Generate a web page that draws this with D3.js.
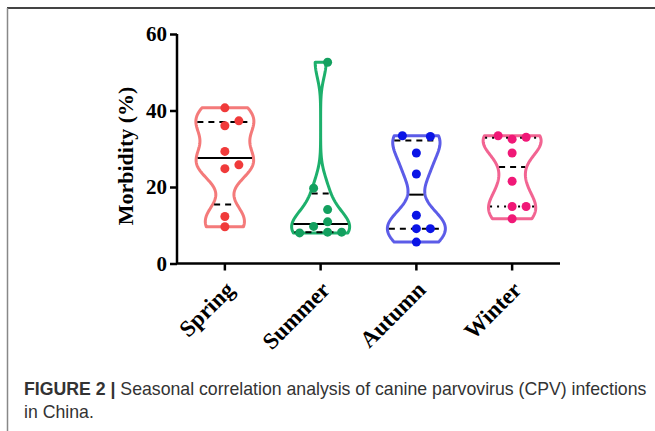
<!DOCTYPE html>
<html lang="en">
<head>
<meta charset="UTF-8">
<title>CPV seasonal violin</title>
<script src="https://d3js.org/d3.v7.min.js"></script>
<style>
  body { margin: 0; background: #fff; }
  svg text { fill: #000; }
</style>
</head>
<body>
<div id="chart"></div>
<script>
// seasons on the x axis
var seasons = ["Spring", "Summer", "Autumn", "Winter"];

// morbidity (%) for each season
var spring = [40.7, 37.3, 36.0, 29.3, 25.8, 24.8, 12.3, 9.6];
var summer = [52.6, 19.7, 14.1, 10.9, 9.7, 8.0, 8.2, 8.2];
var autumn = [33.4, 33.2, 28.9, 23.4, 12.6, 9.1, 9.1, 5.6];
var winter = [33.4, 32.5, 33.0, 28.9, 21.5, 14.9, 14.9, 11.7];

// horizontal jitter of each dot (in dot-widths), as GraphPad spread them
var springJit = [0, 1, 0, 0, 1, 0, 0, 0];
var summerJit = [0.5, -0.5, 0.5, 0.5, -0.5, -1.5, 0.5, 1.5];
var autumnJit = [-1, 1, 0, 0, 0, 0, 1, 0];
var winterJit = [-1, 0, 1, 0, 0, 0, 1, 0];

var yTicks = [0, 20, 40, 60];

var outline = ["#f47a7a", "#1db06c", "#5c5ce8", "#f26492"];
var dotCol  = ["#f03a3a", "#13a05f", "#0a14e6", "#f01877"];

var groups = [
  {name: "Spring", vals: spring, jit: springJit, med: "solid", q: "dash"},
  {name: "Summer", vals: summer, jit: summerJit, med: "solid", q: "dash"},
  {name: "Autumn", vals: autumn, jit: autumnJit, med: "solid", q: "dash"},
  {name: "Winter", vals: winter, jit: winterJit, med: "dash", q: "dot"}
];

var W = 655, H = 431;
var svg = d3.select("#chart").append("svg")
  .attr("width", W).attr("height", H);

// page frame
svg.append("line").attr("x1", 7).attr("x2", W).attr("y1", 8).attr("y2", 8)
  .attr("stroke", "#444").attr("stroke-width", 2);
svg.append("line").attr("x1", 7.5).attr("x2", 7.5).attr("y1", 8).attr("y2", H)
  .attr("stroke", "#888").attr("stroke-width", 1.5);

var x = d3.scaleBand().domain(seasons).range([177, 560]);
var y = d3.scaleLinear().domain([0, 60]).range([263.5, 34]);

// kernel density estimate
function kde(vals, h) {
  return function(v) {
    return d3.sum(vals, function(d) {
      var u = (v - d) / h;
      return Math.exp(-0.5 * u * u);
    });
  };
}

// quartiles the way Prism does them: position (n+1)p
function prismQ(sorted, p) {
  var pos = (sorted.length + 1) * p - 1;
  var i = Math.floor(pos), t = pos - i;
  if (i < 0) return sorted[0];
  if (i >= sorted.length - 1) return sorted[sorted.length - 1];
  return sorted[i] + t * (sorted[i + 1] - sorted[i]);
}

var halfW = 29;
groups.forEach(function(g, i) {
  var cx = x(g.name) + x.bandwidth() / 2;
  var f = kde(g.vals, 4.0);
  var lo = d3.min(g.vals), hi = d3.max(g.vals);
  var steps = d3.range(0, 101).map(function(k) { return lo + (hi - lo) * k / 100; });
  var dens = steps.map(f);
  var dmax = d3.max(dens);
  var wAt = function(v) { return f(v) / dmax * halfW; };

  var pts = steps.map(function(v) { return [cx + wAt(v), y(v)]; });
  var left = steps.slice().reverse().map(function(v) { return [cx - wAt(v), y(v)]; });
  var all = pts.concat(left);

  svg.append("path")
    .attr("d", d3.line().curve(d3.curveLinearClosed)(all))
    .attr("fill", "none")
    .attr("stroke", outline[i])
    .attr("stroke-width", 3)
    .attr("stroke-linejoin", "round");

  var sorted = g.vals.slice().sort(d3.ascending);
  var stats = [
    {v: prismQ(sorted, 0.5), s: g.med},
    {v: prismQ(sorted, 0.75), s: g.q},
    {v: prismQ(sorted, 0.25), s: g.q}
  ];
  stats.forEach(function(st) {
    var w = wAt(st.v) - 1.5;
    svg.append("line")
      .attr("x1", cx - w).attr("x2", cx + w)
      .attr("y1", y(st.v)).attr("y2", y(st.v))
      .attr("stroke", "#000").attr("stroke-width", 2)
      .attr("stroke-dasharray", st.s === "dash" ? "6,5" : st.s === "dot" ? "2,5" : null);
  });

  svg.selectAll(null).data(g.vals).enter().append("circle")
    .attr("cx", function(d, k) { return cx + g.jit[k] * 14; })
    .attr("cy", function(d) { return y(d); })
    .attr("r", 4.5)
    .attr("fill", dotCol[i]);
});

// axes
var yAxis = svg.append("g")
  .attr("transform", "translate(177,0)")
  .call(d3.axisLeft(y).tickValues(yTicks).tickSize(7).tickPadding(3));
var xAxis = svg.append("g")
  .attr("transform", "translate(0,263.5)")
  .call(d3.axisBottom(x).tickSize(7).tickSizeOuter(0));

[yAxis, xAxis].forEach(function(a) {
  a.select(".domain").attr("stroke", "#000").attr("stroke-width", 2.5);
  a.selectAll(".tick line").attr("stroke", "#000").attr("stroke-width", 2.5);
  a.selectAll("text")
    .style("font-family", "'Liberation Serif', 'Times New Roman', serif")
    .style("font-weight", "bold")
    .style("font-size", "21px");
});
yAxis.select(".domain").attr("d", "M0," + y(60) + "V" + y(0));
xAxis.select(".domain").attr("d", "M177,0H560");

xAxis.selectAll(".tick text")
  .style("font-size", "23px")
  .attr("text-anchor", "end")
  .attr("dy", "0.35em")
  .attr("transform", "translate(5,22) rotate(-45)")
  .attr("y", 0).attr("x", 0);

svg.append("text")
  .attr("transform", "translate(133,156) rotate(-90)")
  .attr("text-anchor", "middle")
  .style("font-family", "'Liberation Serif', 'Times New Roman', serif")
  .style("font-weight", "bold")
  .style("font-size", "22px")
  .text("Morbidity (%)");

// caption
var cap = svg.append("text")
  .attr("x", 24).attr("y", 395)
  .style("font-family", "'Liberation Sans', Arial, sans-serif")
  .style("font-size", "17.7px")
  .style("fill", "#333");
cap.append("tspan").style("font-weight", "bold").style("fill", "#333").text("FIGURE 2 | ");
cap.append("tspan").style("fill", "#333").text("Seasonal correlation analysis of canine parvovirus (CPV) infections");
svg.append("text")
  .attr("x", 24).attr("y", 418)
  .style("font-family", "'Liberation Sans', Arial, sans-serif")
  .style("font-size", "17.7px")
  .style("fill", "#333")
  .text("in China.");
</script>
</body>
</html>
